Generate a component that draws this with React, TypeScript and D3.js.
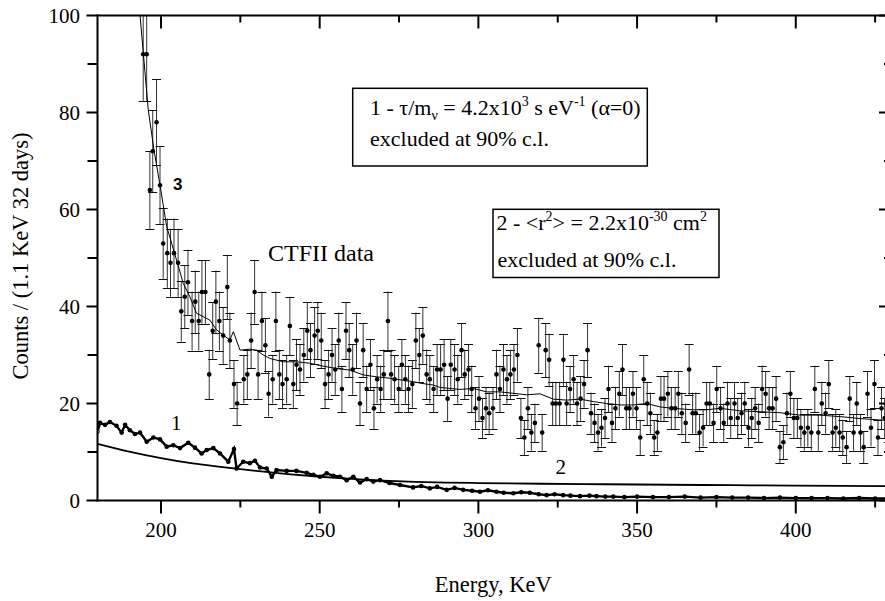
import React from "react";
import * as d3 from "d3";

// ---------- data ----------
const dataEnergy = [
  194.4, 195.5, 196.5, 197.4, 198.6, 199.7, 200.7, 202.0, 203.0, 204.1, 205.4, 206.4, 207.5, 208.5, 209.8, 210.8,
  211.9, 212.9, 214.0, 215.2, 216.3, 217.3, 218.4, 219.6, 220.9, 221.7, 223.0, 224.0, 226.1, 227.2, 228.4, 229.5,
  230.6, 231.8, 232.9, 233.9, 235.2, 236.2, 237.3, 238.3, 239.6, 240.6, 241.7, 242.7, 243.8, 245.0, 246.1, 247.1,
  248.4, 249.4, 250.5, 251.7, 252.8, 253.9, 254.9, 256.0, 257.0, 258.3, 259.3, 260.4, 261.6, 262.7, 263.7, 264.8,
  266.0, 267.1, 268.1, 269.2, 270.2, 271.5, 272.5, 273.6, 274.9, 275.9, 277.0, 278.0, 279.2, 280.3, 281.4, 282.5,
  283.7, 284.7, 285.9, 287.0, 288.1, 289.2, 290.3, 291.3, 292.5, 293.5, 294.7, 295.7, 296.9, 297.9, 299.1, 300.2,
  301.3, 302.4, 303.4, 304.6, 305.7, 306.8, 307.9, 309.0, 310.1, 311.2, 312.3, 313.4, 314.5, 315.6, 316.7, 317.8,
  319.0, 320.1, 321.2, 322.3, 323.4, 324.4, 325.6, 326.8, 327.8, 328.9, 330.0, 331.1, 332.2, 333.3, 334.4, 335.5,
  336.6, 337.7, 338.8, 339.9, 341.0, 342.1, 343.2, 344.4, 345.4, 346.6, 347.6, 348.7, 349.8, 351.0, 352.1, 353.2,
  354.2, 355.4, 356.4, 357.5, 358.5, 359.7, 360.8, 362.0, 363.0, 364.1, 365.3, 366.4, 367.5, 368.5, 369.7, 370.8,
  371.9, 372.9, 374.1, 375.1, 376.3, 377.3, 378.5, 379.5, 380.7, 381.7, 382.9, 383.9, 385.1, 386.1, 387.2, 388.3,
  389.4, 390.5, 391.6, 392.7, 393.8, 395.0, 396.1, 397.2, 398.3, 399.4, 400.5, 401.6, 402.7, 403.8, 404.9, 406.0,
  407.1, 408.2, 409.4, 410.4, 411.6, 412.6, 413.8, 414.8, 416.0, 417.0, 418.2, 419.2, 420.4, 421.4, 422.6, 423.7,
  424.8, 425.9, 427.0, 428.0, 429.1,
];
const dataCounts = [
  92, 92, 64, 72, 78, 65, 53, 51, 49, 51, 49, 39, 42, 45, 37, 41,
  37, 43, 43, 26, 35, 41, 37, 34, 44, 33, 24, 20, 25, 26, 33, 43,
  26, 37, 32, 22, 25, 37, 26, 24, 25, 36, 24, 28, 27, 30, 35, 31,
  34, 35, 33, 24, 26, 30, 27, 33, 23, 35, 31, 27, 33, 20, 31, 23,
  28, 19, 25, 23, 26, 37, 26, 25, 23, 28, 25, 23, 24, 33, 30, 34,
  26, 25, 23, 27, 27, 28, 21, 28, 27, 25, 31, 26, 27, 23, 19, 21,
  17, 19, 18, 19, 26, 23, 27, 25, 26, 27, 30, 17, 13, 19, 14, 16,
  32, 14, 31, 29, 20, 20, 20, 29, 20, 23, 25, 20, 21, 24, 31, 18,
  16, 14, 15, 17, 23, 16, 19, 22, 27, 19, 19, 22, 19, 13, 25, 20,
  18, 13, 14, 21, 21, 22, 19, 19, 22, 18, 16, 27, 18, 18, 14, 15,
  20, 20, 16, 23, 19, 16, 20, 17, 20, 17, 18, 20, 15, 17, 19, 16,
  23, 22, 19, 19, 21, 11, 12, 18, 22, 17, 17, 15, 14, 15, 14, 23,
  14, 20, 18, 24, 14, 15, 14, 13, 11, 21, 14, 20, 14, 11, 22, 15,
  24, 13, 19, 17, 16,
];

// fit curve "3"
const fitEnergy = [
  192.5, 193.4, 196.0, 197.8, 199.7, 201.8, 204.9, 207.0, 209.1, 211.2, 213.3, 215.4, 217.5, 219.6, 221.7, 222.8,
  224.9, 228.0, 230.1, 232.2, 234.3, 238.5, 242.7, 246.9, 251.1, 255.3, 259.5, 263.7, 267.9, 272.1, 276.3, 279.5,
  281.6, 285.8, 288.0, 294.2, 298.4, 302.6, 306.8, 311.0, 315.2, 319.4, 323.6, 327.8, 332.0, 336.2, 340.4, 344.6,
  348.8, 353.0, 357.2, 361.4, 367.7, 371.9, 376.1, 382.4, 388.7, 395.0, 401.3, 407.6, 413.9, 420.2, 426.5, 430.0,
];
const fitCounts = [
  110, 100, 80.5, 72.3, 65, 56.5, 49.6, 44.8, 42, 38.6, 37.9, 37.2, 35.2, 34.1, 33.1, 34.8,
  31, 31.2, 31, 30, 29.3, 28.6, 28.6, 28.3, 27.7, 27.2, 26.9, 25.9, 25.5, 25.2, 24.8, 24.5,
  24.2, 23.8, 23.3, 22.9, 23.1, 22.4, 22.4, 22.1, 21.8, 22.0, 20.9, 20.7, 20.9, 20.4, 20.0, 19.7,
  19.7, 20.0, 19.3, 19.0, 18.7, 18.7, 19.0, 18.5, 18.3, 18.1, 17.6, 17.6, 17.3, 16.9, 16.6, 16.5,
];

// curve "1"
const curve1Energy = [
  180.0, 180.8, 182.4, 183.9, 186.0, 187.6, 188.7, 190.2, 191.8, 193.4, 195.5, 197.6, 199.7, 201.8, 203.9, 206.0,
  208.6, 210.7, 212.8, 214.4, 216.5, 218.6, 221.2, 223.0, 223.8, 225.9, 228.0, 229.6, 231.2, 233.3, 234.9, 236.4,
  239.6, 242.7, 245.9, 248.0, 250.1, 252.2, 254.3, 256.4, 258.5, 260.6, 262.7, 264.8, 266.9, 269.0, 272.0, 275.3,
  279.4, 282.0, 284.7, 287.0, 290.0, 292.5, 295.2, 298.0, 300.5, 303.0, 305.7, 308.0, 311.0, 313.5, 316.2, 319.0,
  321.5, 324.0, 326.7, 329.0, 332.0, 335.0, 337.2, 340.0, 342.5, 346.0, 350.0, 355.0, 360.0, 365.0, 370.0, 375.0,
  380.0, 385.0, 390.0, 395.0, 400.0, 405.0, 410.0, 415.0, 420.0, 425.0, 430.0,
];
const curve1Counts = [
  14.2, 16, 15.6, 16.2, 15.4, 14.0, 15.6, 14.5, 13.7, 14.0, 12.1, 13.0, 12.6, 11.1, 11.4, 10.8,
  11.9, 10.9, 9.7, 10.4, 10.8, 9.7, 8.0, 10.6, 6.6, 8.0, 7.7, 8.2, 6.8, 6.6, 4.9, 6.3,
  6.1, 6.1, 5.7, 5.3, 4.9, 5.6, 5.1, 4.9, 4.2, 4.9, 3.7, 4.4, 3.9, 4.2, 3.6, 3.2,
  2.7, 3.0, 2.5, 2.8, 2.2, 2.6, 2.2, 2.0, 1.8, 2.1, 1.8, 1.6, 1.5, 1.7, 1.6, 1.3,
  1.1, 1.3, 1.1, 1.0, 0.9, 1.0, 0.9, 0.8, 0.8, 0.7, 0.8, 0.7, 0.7, 0.8, 0.6, 0.7,
  0.6, 0.6, 0.5, 0.6, 0.5, 0.5, 0.5, 0.4, 0.5, 0.4, 0.4,
];

// curve "2"
const curve2Energy = [180, 190, 200, 210, 220, 230, 240, 250, 260, 270, 280, 290, 300, 320, 340, 360, 380, 400, 430];
const curve2Counts = [11.7, 10.1, 8.75, 7.65, 6.85, 6.1, 5.45, 4.9, 4.45, 4.1, 3.85, 3.7, 3.6, 3.45, 3.35, 3.25, 3.15, 3.05, 2.95];

const xMajorTicks = [200, 250, 300, 350, 400];
const xMinorTicks = [225, 275, 325, 375, 425];
const yMajorTicks = [0, 20, 40, 60, 80, 100];
const yMinorTicks = [10, 30, 50, 70, 90];

const xTitle = "Energy, KeV";
const yTitle = "Counts / (1.1 KeV 32 days)";

// ---------- layout ----------
const W = 885;
const H = 601;
const L = 97.5;
const R = 891;
const T = 15.5;
const B = 500.5;
const SERIF = "'Liberation Serif', 'Times New Roman', serif";
const SANS = "'Liberation Sans', Arial, sans-serif";

export default function App() {
  const x = d3.scaleLinear().domain([180, 430]).range([L, R]);
  const y = d3.scaleLinear().domain([0, 100]).range([B, T]);

  const data = dataEnergy.map((e, i) => ({ e, c: dataCounts[i] }));
  const fit = fitEnergy.map((e, i) => ({ e, c: fitCounts[i] }));
  const c1 = curve1Energy.map((e, i) => ({ e, c: curve1Counts[i] }));
  const c2 = curve2Energy.map((e, i) => ({ e, c: curve2Counts[i] }));

  const line = d3
    .line<{ e: number; c: number }>()
    .x((d) => x(d.e))
    .y((d) => y(d.c));
  const smooth = d3
    .line<{ e: number; c: number }>()
    .x((d) => x(d.e))
    .y((d) => y(d.c))
    .curve(d3.curveMonotoneX);

  const cap = 4.5;

  return (
    <svg
      width={W}
      height={H}
      style={{ position: "absolute", left: 0, top: 0, background: "#fff" }}
    >
      <defs>
        <clipPath id="plot">
          <rect x={L} y={T} width={R - L} height={B - T} />
        </clipPath>
      </defs>
      <rect x={0} y={0} width={W} height={H} fill="#fff" />

      <g clipPath="url(#plot)">
        {/* error bars (Poisson) */}
        {data.map((d, i) => {
          const err = Math.sqrt(d.c);
          const px = x(d.e);
          const y1 = y(d.c + err);
          const y0 = y(d.c - err);
          return (
            <g key={"eb" + i} stroke="#111" strokeWidth={1} fill="none">
              <line x1={px} x2={px} y1={y1} y2={y0} stroke="#333" />
              <line x1={px - cap} x2={px + cap} y1={Math.round(y1) + 0.5} y2={Math.round(y1) + 0.5} />
              <line x1={px - cap} x2={px + cap} y1={Math.round(y0) + 0.5} y2={Math.round(y0) + 0.5} />
            </g>
          );
        })}
        {/* fit line 3 */}
        <path d={line(fit) || ""} fill="none" stroke="#000" strokeWidth={1} />
        {/* data points */}
        {data.map((d, i) => (
          <circle key={"pt" + i} cx={x(d.e)} cy={y(d.c)} r={2.3} fill="#000" />
        ))}
        {/* curve 2 */}
        <path d={smooth(c2) || ""} fill="none" stroke="#000" strokeWidth={1.8} />
        {/* curve 1 */}
        <path d={line(c1) || ""} fill="none" stroke="#000" strokeWidth={2.4} />
        {c1.map((d, i) =>
          i === 0 ? (
            <circle key={"c1" + i} cx={x(d.e)} cy={y(d.c)} r={2} fill="#fff" stroke="#000" strokeWidth={0.8} />
          ) : (
            <circle key={"c1" + i} cx={x(d.e)} cy={y(d.c)} r={2.3} fill="#000" />
          )
        )}
      </g>

      {/* axes frame */}
      <g stroke="#000" strokeWidth={2} fill="none">
        <line x1={L} x2={L} y1={T - 1} y2={B + 1} />
        <line x1={L - 1} x2={R} y1={B} y2={B} />
        <line x1={L - 1} x2={R} y1={T} y2={T} />
        <line x1={R} x2={R} y1={T} y2={B} />
        {xMajorTicks.map((t) => (
          <line key={"bx" + t} x1={x(t)} x2={x(t)} y1={B} y2={B + 13} />
        ))}
        {xMinorTicks.map((t) => (
          <line key={"bxm" + t} x1={x(t)} x2={x(t)} y1={B} y2={B + 7} />
        ))}
        {xMajorTicks.map((t) => (
          <line key={"tx" + t} x1={x(t)} x2={x(t)} y1={T} y2={T + 13} />
        ))}
        {xMinorTicks.map((t) => (
          <line key={"txm" + t} x1={x(t)} x2={x(t)} y1={T} y2={T + 7} />
        ))}
        {yMajorTicks.map((t) => (
          <line key={"ly" + t} x1={L - 11} x2={L} y1={y(t)} y2={y(t)} />
        ))}
        {yMinorTicks.map((t) => (
          <line key={"lym" + t} x1={L - 10} x2={L} y1={y(t)} y2={y(t)} />
        ))}
        {yMajorTicks.map((t) => (
          <line key={"ry" + t} x1={R - 12} x2={R} y1={y(t)} y2={y(t)} />
        ))}
        {yMinorTicks.map((t) => (
          <line key={"rym" + t} x1={R - 7} x2={R} y1={y(t)} y2={y(t)} />
        ))}
      </g>

      {/* tick labels */}
      <g fontFamily={SERIF} fontSize={21} fill="#000">
        {xMajorTicks.map((t) => (
          <text key={"xl" + t} x={x(t)} y={537} textAnchor="middle">
            {t}
          </text>
        ))}
        {yMajorTicks.map((t) => (
          <text key={"yl" + t} x={80} y={y(t) + 7} textAnchor="end">
            {t}
          </text>
        ))}
      </g>

      {/* axis titles */}
      <text x={(L + R) / 2 - 1} y={592} textAnchor="middle" fontFamily={SERIF} fontSize={22.5}>
        {xTitle}
      </text>
      <text
        transform={`translate(28, 256) rotate(-90)`}
        textAnchor="middle"
        fontFamily={SERIF}
        fontSize={22.5}
      >
        {yTitle}
      </text>

      {/* annotation box 1 */}
      <rect x={352.7} y={88.3} width={647.3 - 352.7} height={166 - 88.3} fill="none" stroke="#000" strokeWidth={1.5} />
      <text x={370} y={115} fontFamily={SERIF} fontSize={22}>
        1 - τ/m
        <tspan fontSize={14} dy={5}>ν</tspan>
        <tspan dy={-5}> = 4.2x10</tspan>
        <tspan fontSize={14} dy={-9}>3</tspan>
        <tspan dy={9}> s eV</tspan>
        <tspan fontSize={14} dy={-9}>-1</tspan>
        <tspan dy={9}> (α=0)</tspan>
      </text>
      <text x={370} y={146} fontFamily={SERIF} fontSize={22}>
        excluded at 90% c.l.
      </text>

      {/* annotation box 2 */}
      <rect x={493} y={209.3} width={719 - 493} height={277.5 - 209.3} fill="none" stroke="#000" strokeWidth={1.5} />
      <text x={496.5} y={230} fontFamily={SERIF} fontSize={22}>
        2 - &lt;r
        <tspan fontSize={14} dy={-9}>2</tspan>
        <tspan dy={9}>&gt; = 2.2x10</tspan>
        <tspan fontSize={14} dy={-9}>-30</tspan>
        <tspan dy={9}> cm</tspan>
        <tspan fontSize={14} dy={-9}>2</tspan>
      </text>
      <text x={497.5} y={267} fontFamily={SERIF} fontSize={22}>
        excluded at 90% c.l.
      </text>

      {/* labels */}
      <text x={268} y={261} fontFamily={SERIF} fontSize={24}>
        CTFII data
      </text>
      <text x={173} y={190} fontFamily={SANS} fontSize={17} fontWeight="bold">
        3
      </text>
      <text x={171} y={430} fontFamily={SERIF} fontSize={21}>
        1
      </text>
      <text x={555.5} y={474} fontFamily={SERIF} fontSize={21}>
        2
      </text>
    </svg>
  );
}
